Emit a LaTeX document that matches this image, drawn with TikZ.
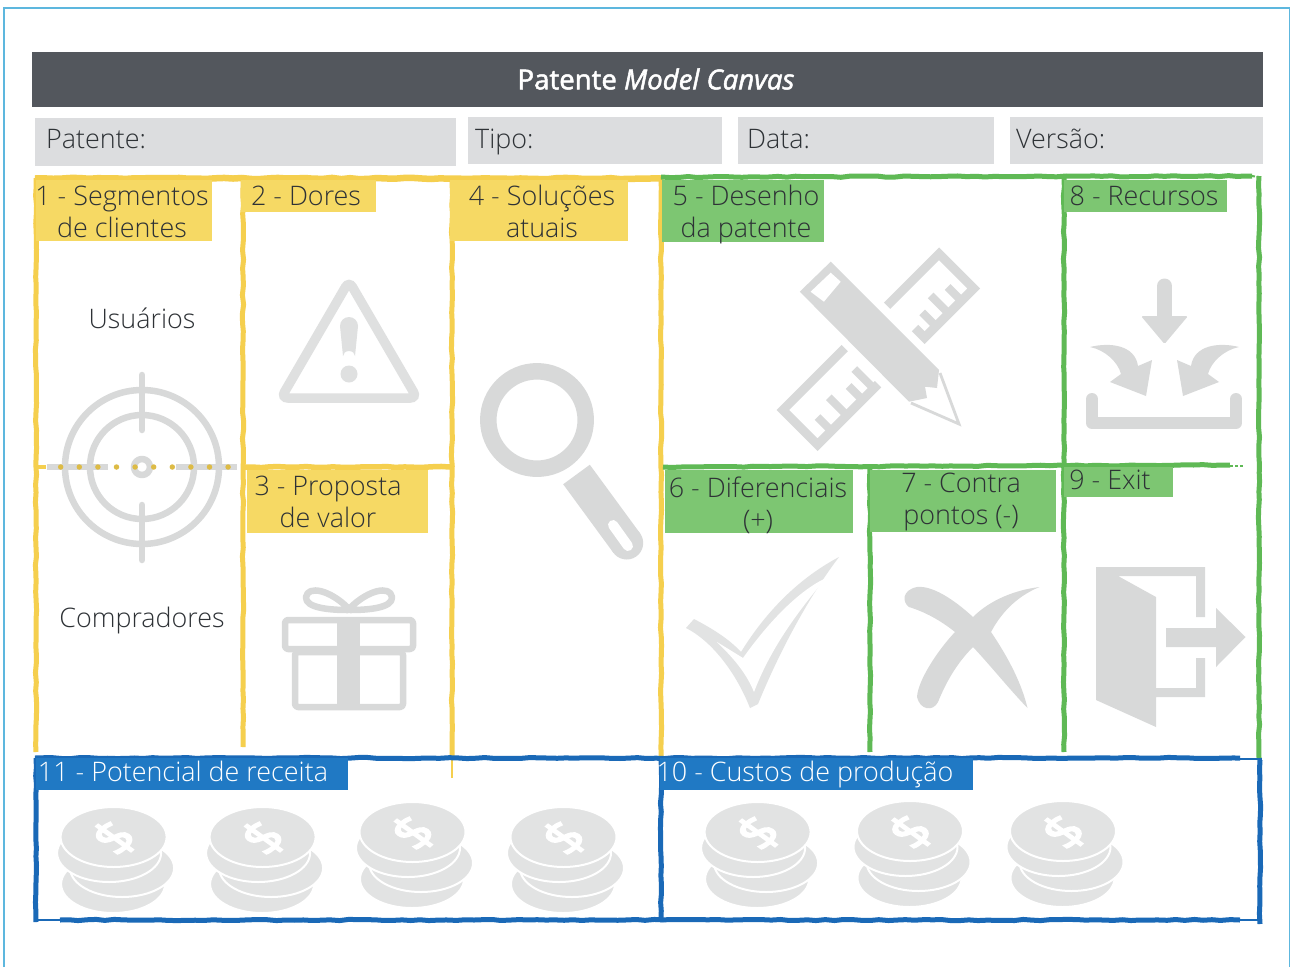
\documentclass[tikz,border=0pt]{standalone}
\usepackage{fontspec}
\usepackage{graphicx}
\setmainfont{Open Sans Light}[BoldFont=Open Sans,ItalicFont=Open Sans Italic]
\newfontfamily\semib{Open Sans}[FakeBold=1.8]
\newfontfamily\boldf{Open Sans}[FakeBold=3]
\usetikzlibrary{decorations.pathmorphing}
\definecolor{frameblue}{HTML}{5DB7DE}
\definecolor{headbar}{HTML}{53575D}
\definecolor{fieldgray}{HTML}{DCDDDF}
\definecolor{yel}{HTML}{F5CF4E}
\definecolor{yelbox}{HTML}{F6D964}
\definecolor{grn}{HTML}{5FB955}
\definecolor{grnbox}{HTML}{7DC672}
\definecolor{blu}{HTML}{1A69B7}
\definecolor{blubox}{HTML}{2079C4}
\definecolor{icon}{HTML}{D8D9D9}
\definecolor{iconlt}{HTML}{DFE0E0}
\definecolor{coin}{HTML}{E2E3E3}
\definecolor{ink}{HTML}{2E3236}
\definecolor{gold}{HTML}{DDBB45}
\tikzset{
  x=1pt,y=-1pt,
  rough/.style={decorate,decoration={random steps,segment length=9,amplitude=.6},line cap=butt},
  yelline/.style={rough,draw=yel,line width=5},
  grnline/.style={rough,draw=grn,line width=5},
  bluline/.style={rough,draw=blu,line width=5},
  boxy/.style={inner sep=0,outer sep=0,draw=none,anchor=north west},
  txt/.style={inner sep=0,font=\fontsize{26.9}{32}\selectfont,text=ink,align=center},
  wtxt/.style={txt,text=white},
  ic/.style={draw=icon,line width=6.5,line join=round,line cap=round},
  cn/.style={fill=coin,draw=white,line width=2},
  dollar/.style={inner sep=0,text=white,font=\boldf\fontsize{58}{58}\selectfont},
}
\newcommand{\coinstack}[3]{%
  \begin{scope}[shift={(#1,#2)}]
    \draw[cn] (-0.5,47) ellipse [x radius=52,y radius=29];
    \draw[cn] (8.5,31) ellipse [x radius=52,y radius=29];
    \draw[cn] (-4.5,16) ellipse [x radius=52,y radius=29];
    \draw[cn] (0,0) ellipse [x radius=53,y radius=30];
    \node[dollar] (#3) at (1,1) {\scalebox{1}[.8]{\rotatebox{48}{\$}}};
  \end{scope}}
\begin{document}
\begin{tikzpicture}
\pgfmathsetseed{7}
\useasboundingbox (0,0) rectangle (1290,967);
\fill[white] (0,0) rectangle (1290,967);
% outer frame
\draw[frameblue,line width=1.2] (4,967) -- (4,8) -- (1289.5,8) -- (1289.5,967);
% header
\node[boxy,fill=headbar,minimum width=1231,minimum height=55] (head) at (32,52) {};
\node[inner sep=0,text=white,font=\semib\fontsize{27.6}{30}\selectfont] (title) at (656,79) {Patente \textit{Model Canvas}};
% fields
\node[boxy,fill=fieldgray,minimum width=421,minimum height=48] (f1) at (35,118) {};
\node[boxy,fill=fieldgray,minimum width=254,minimum height=47] (f2) at (468,117) {};
\node[boxy,fill=fieldgray,minimum width=256,minimum height=47] (f3) at (738,117) {};
\node[boxy,fill=fieldgray,minimum width=253,minimum height=47] (f4) at (1010,117) {};
\node[txt,anchor=base west] (ft1) at (46,148) {Patente:};
\node[txt,anchor=base west] (ft2) at (475,148) {Tipo:};
\node[txt,anchor=base west] (ft3) at (747,148) {Data:};
\node[txt,anchor=base west] (ft4) at (1016,148) {Versão:};
% icons: warning
\draw[draw=iconlt,line width=9.5,rounded corners=7] (349,281) -- (281,398) -- (417,398) -- cycle;
\fill[iconlt] (340,326) arc[start angle=180,end angle=360,x radius=9,y radius=9] -- (355,356) arc[start angle=0,end angle=-180,x radius=6,y radius=5] -- cycle;
\fill[iconlt] (349,374) circle[radius=8.5];
% target
\draw[ic] (142,467) circle[radius=77];
\draw[ic] (142,467) circle[radius=52];
\draw[ic] (142,467) circle[radius=8];
\draw[ic] (142,375) -- (142,430);
\draw[ic] (142,505) -- (142,560);
\draw[ic,line cap=butt] (47,467) -- (108,467);
\draw[ic,line cap=butt] (176,467) -- (237,467);
\draw[gold,line width=5.5,line cap=round,dash pattern=on 0pt off 18.6pt] (60.7,467) -- (236,467);
\draw[yel,line width=4] (38,467) -- (46,467);
% gift
\draw[ic,rounded corners=3] (285,620) rectangle (413,649);
\draw[ic,rounded corners=3] (295,652) rectangle (403,707);
\fill[icon] (337,620) rectangle (360,707);
\draw[ic] (348,608) .. controls (330,590) and (308,585) .. (306,597) .. controls (305,608) and (330,610) .. (348,610);
\draw[ic] (350,608) .. controls (368,590) and (390,585) .. (392,597) .. controls (393,608) and (368,610) .. (350,610);
% magnifier
\draw[icon,line width=16.5] (537,420) circle[radius=48.7];
\draw[icon,line width=33] (576.5,474.5) -- (626.7,543);
\fill[icon] (626.7,543) circle[radius=16.5];
\draw[white,line width=10,line cap=round] (613,525) -- (628,546);
% ruler
\begin{scope}[shift={(776.5,410)},x={(.707pt,.707pt)},y={(.707pt,-.707pt)}]
  \draw[icon,line width=9,line join=miter] (92,4.5) -- (4.5,4.5) -- (4.5,53.5) -- (90,53.5);
  \draw[icon,line width=9,line join=miter] (152,4.5) -- (225.5,4.5) -- (225.5,53.5) -- (156,53.5) -- (156,40);
  \foreach \a/\b in {24/34,46/28,68/34,84/26,172/34,190/28,208/34}
    \draw[icon,line width=8] (\a,54) -- (\a,\b);
\end{scope}
% pencil
\fill[icon] (830.7,261.7) -- (799.8,291.7) -- (909,401.7) -- (927,398) -- (925,386.7) -- (937,388) -- (939,370) -- cycle;
\fill[white] (830.7,272.7) -- (840.7,281.7) -- (823.9,301.7) -- (810.6,291.7) -- cycle;
\draw[icon,line width=2.8,line join=miter] (940,373) -- (959,424) -- (911,403);
% import icon
\draw[draw=icon,line width=12,line join=round,line cap=round] (1092,399) -- (1092,423) -- (1236,423) -- (1236,399);
\draw[icon,line width=15,line cap=round] (1164.5,286) -- (1164.5,320);
\fill[icon,rounded corners=1.5] (1141,316) -- (1188,316) -- (1164.5,344) -- cycle;
\fill[icon] (1090,347) .. controls (1110,342) and (1135,345) .. (1138,366) -- (1152,360) -- (1146,396) -- (1110,382) -- (1121,374) .. controls (1118,362) and (1105,350) .. (1090,347) -- cycle;
\fill[icon] (1239,347) .. controls (1219,342) and (1194,345) .. (1191,366) -- (1177,360) -- (1183,396) -- (1219,382) -- (1208,374) .. controls (1211,362) and (1224,350) .. (1239,347) -- cycle;
% check mark
\fill[coin] (686,628) -- (694,619) .. controls (715,630) and (730,640) .. (741,652) .. controls (770,605) and (805,575) .. (839,557) .. controls (810,595) and (780,650) .. (758,704) -- (750,708) .. controls (735,670) and (710,640) .. (686,628) -- cycle;
\fill[white] (717,642) -- (743,658) .. controls (770,620) and (800,590) .. (826,578) .. controls (795,615) and (770,650) .. (754,692) .. controls (745,670) and (730,655) .. (717,642) -- cycle;
% cross mark
\fill[icon] (1039.5,587) .. controls (1015,597) and (1000,615) .. (991,632) .. controls (1010,660) and (1022,685) .. (1027.5,708) .. controls (1010,690) and (990,665) .. (973,647) .. controls (955,665) and (945,685) .. (938,702) .. controls (933,712) and (920,710) .. (917,697) .. controls (918,680) and (938,650) .. (955,632) .. controls (940,620) and (925,612) .. (909,607) .. controls (902,602) and (902,590) .. (917,587) .. controls (935,585) and (960,605) .. (973,617) .. controls (990,600) and (1015,590) .. (1039.5,587) -- cycle;
% exit door
\fill[icon] (1096,567) -- (1205,567) -- (1205,617) -- (1196,617) -- (1196,576) -- (1118,576) -- (1156,597) -- (1156,688) -- (1196,688) -- (1196,658) -- (1205,658) -- (1205,697) -- (1156,697) -- (1156,727) -- (1096,700) -- cycle;
\fill[icon] (1166,628) -- (1216,628) -- (1216,608) -- (1245.5,637) -- (1216,667) -- (1216,647) -- (1166,647) -- cycle;
% coins
\coinstack{113.6}{837}{d1}
\coinstack{262.6}{837}{d2}
\coinstack{412.5}{832}{d3}
\coinstack{563.5}{837}{d4}
\coinstack{757.6}{832}{d5}
\coinstack{910}{831}{d6}
\coinstack{1063}{831}{d7}
% yellow frame
\draw[yelline,line width=6.5] (35,178.5) -- (661,178.5);
\draw[yelline] (36,178) -- (36,752);
\draw[yelline] (243,178) -- (243,747);
\draw[yelline] (452,178) -- (452,756);
\draw[yelline] (661,178) -- (661,756);
\draw[yelline,line width=5.5] (243,467) -- (450,467);
\draw[yel,line width=1.5] (452,756) -- (452,778);
% green frame
\draw[grnline] (661,177) -- (1252,176);
\draw[grn,line width=2,dash pattern=on 3 off 2] (1252,176) -- (1258,177);
\draw[grnline] (1064,178) -- (1064,752);
\draw[grnline] (1259,176) -- (1259,760);
\draw[grnline] (870,468) -- (870,752);
\draw[grnline] (663,467) -- (1230,465);
\draw[grn,line width=2,dash pattern=on 3 off 2] (1230,466) -- (1243,466);
% blue frame
\draw[bluline] (35,758) -- (1240,758);
\draw[blu,line width=1.8] (1240,759) -- (1262,759);
\draw[bluline] (36,758) -- (36,922);
\draw[bluline] (661,758) -- (661,922);
\draw[bluline] (1260,760) -- (1260,924);
\draw[bluline] (60,920) -- (1240,920);
\draw[blu,line width=1.8] (34,920) -- (60,920);
\draw[blu,line width=1.8] (1240,920) -- (1262,920);
% label boxes
\node[boxy,fill=yelbox,minimum width=176,minimum height=61] (b1) at (36,180) {};
\node[boxy,fill=yelbox,minimum width=135,minimum height=32] (b2) at (241,180) {};
\node[boxy,fill=yelbox,minimum width=181,minimum height=63] (b3) at (247,470) {};
\node[boxy,fill=yelbox,minimum width=178,minimum height=61] (b4) at (450,180) {};
\node[boxy,fill=grnbox,minimum width=162,minimum height=62] (b5) at (662,180) {};
\node[boxy,fill=grnbox,minimum width=188,minimum height=63] (b6) at (665,470) {};
\node[boxy,fill=grnbox,minimum width=186,minimum height=62] (b7) at (870,470) {};
\node[boxy,fill=grnbox,minimum width=163,minimum height=32] (b8) at (1064,180) {};
\node[boxy,fill=grnbox,minimum width=109,minimum height=30] (b9) at (1064,467) {};
\node[boxy,fill=blubox,minimum width=312,minimum height=32] (b11) at (36,758) {};
\node[boxy,fill=blubox,minimum width=313,minimum height=32] (b10) at (660,758) {};
% label texts
\node[txt,anchor=base] (t1) at (122,205) {1 - Segmentos};
\node[txt,anchor=base] (t1b) at (122,237) {de clientes};
\node[txt,anchor=base] (t2) at (306,205) {2 - Dores};
\node[txt,anchor=base] (t3) at (328,495) {3 - Proposta};
\node[txt,anchor=base] (t3b) at (328,527) {de valor};
\node[txt,anchor=base] (t4) at (542,205) {4 - Soluções};
\node[txt,anchor=base] (t4b) at (542,237) {atuais};
\node[txt,anchor=base] (t5) at (746,205) {5 - Desenho};
\node[txt,anchor=base] (t5b) at (746,237) {da patente};
\node[txt,anchor=base] (t6) at (758,497) {6 - Diferenciais};
\node[txt,anchor=base] (t6b) at (758,529) {(+)};
\node[txt,anchor=base] (t7) at (961,492) {7 - Contra};
\node[txt,anchor=base] (t7b) at (961,524) {pontos (-)};
\node[txt,anchor=base] (t8) at (1144,205) {8 - Recursos};
\node[txt,anchor=base] (t9) at (1110,489) {9 - Exit};
\node[wtxt,anchor=base] (t11) at (183,781) {11 - Potencial de receita};
\node[wtxt,anchor=base] (t10) at (805,781) {10 - Custos de produção};
\node[txt,anchor=base] (u) at (142,328) {Usuários};
\node[txt,anchor=base] (c) at (142,627) {Compradores};
\end{tikzpicture}
\end{document}
